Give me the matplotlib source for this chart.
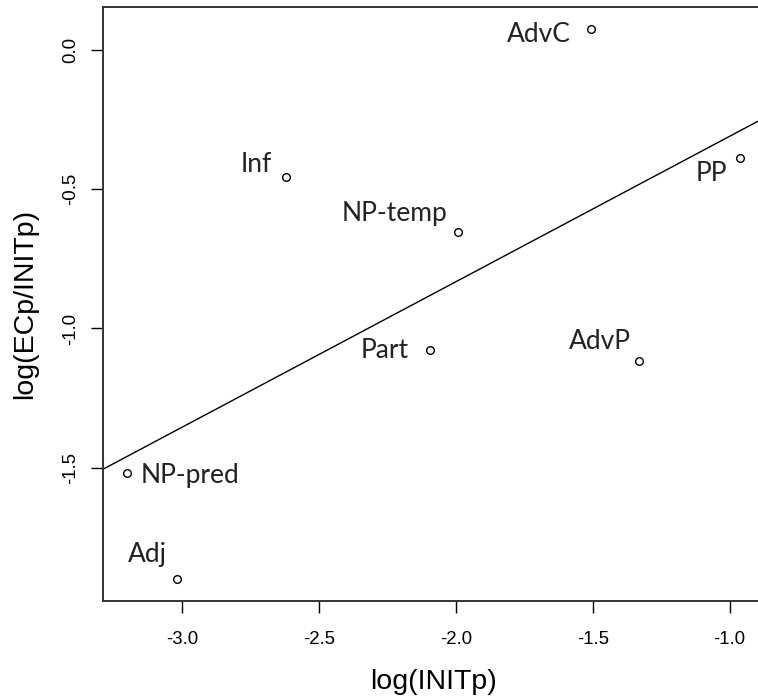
import matplotlib
matplotlib.use("Agg")
import matplotlib.pyplot as plt
import numpy as np

plt.rcParams['axes.unicode_minus'] = False

# categories and their coordinates
names = ['AdvC', 'Inf', 'NP-temp', 'PP', 'Part', 'AdvP', 'NP-pred', 'Adj']
log_init = [-1.507, -2.62, -1.993, -0.964, -2.095, -1.33, -3.20, -3.02]
log_ratio = [0.076, -0.457, -0.655, -0.389, -1.076, -1.115, -1.52, -1.90]

x_ticks = [-3.0, -2.5, -2.0, -1.5, -1.0]
y_ticks = [0.0, -0.5, -1.0, -1.5]

# label placement (pixels from the point, alignment)
label_offsets = {
    'AdvC': (-20, -13, 'right'),
    'Inf': (-14, 5, 'right'),
    'NP-temp': (-10, 11, 'right'),
    'PP': (-12, -23, 'right'),
    'Part': (-21, -8, 'right'),
    'AdvP': (-8, 12, 'right'),
    'NP-pred': (13, -10, 'left'),
    'Adj': (-10, 17, 'right'),
}

W, H = 758, 698
fig = plt.figure(figsize=(W / 100, H / 100), dpi=100)
ax = fig.add_axes([103 / W, 1 - 601 / H, 661 / W, 594 / H])

x = np.array(log_init)
y = np.array(log_ratio)

# R style axis limits: data range plus 4 %
xr = x.max() - x.min()
yr = y.max() - y.min()
ax.set_xlim(x.min() - 0.04 * xr, x.max() + 0.04 * xr)
ax.set_ylim(y.min() - 0.04 * yr, y.max() + 0.04 * yr)

ax.plot(x, y, linestyle='none', marker='o', markersize=5.5,
        markerfacecolor='white', markeredgecolor='black', markeredgewidth=1.0)

# least squares line
slope, intercept = np.polyfit(x, y, 1)
ax.axline((0, intercept), slope=slope, color='black', linewidth=1.0)

for name, xi, yi in zip(names, x, y):
    dx, dy, ha = label_offsets[name]
    ax.annotate(name, (xi, yi), xytext=(dx, dy), textcoords='offset pixels',
                ha=ha, va='baseline', fontsize=19, family='Lato', color='#222222')

ax.set_xticks(x_ticks)
ax.set_xticklabels([f'{t:.1f}' for t in x_ticks])
ax.set_yticks(y_ticks)
ax.set_yticklabels([f'{t:.1f}' for t in y_ticks])

ax.tick_params(direction='out', length=8.6, width=1.0, pad=13, labelsize=13.4)
ax.tick_params(axis='y', pad=8.5, labelrotation=90)
for lab in ax.get_xticklabels() + ax.get_yticklabels():
    lab.set_family('Liberation Sans')
for lab in ax.get_yticklabels():
    lab.set_verticalalignment('center')

for side in ['left', 'bottom', 'top', 'right']:
    ax.spines[side].set_linewidth(1.4)
    ax.spines[side].set_color('#333333')

fig.text(434 / W, 1 - 682 / H, 'log(INITp)', ha='center', va='center',
         fontsize=20.5, family='Liberation Sans')
fig.text(25 / W, 1 - 304 / H, 'log(ECp/INITp)', ha='center', va='center',
         rotation=90, fontsize=20.5, family='Liberation Sans')

fig.savefig('out.png', dpi=100)
